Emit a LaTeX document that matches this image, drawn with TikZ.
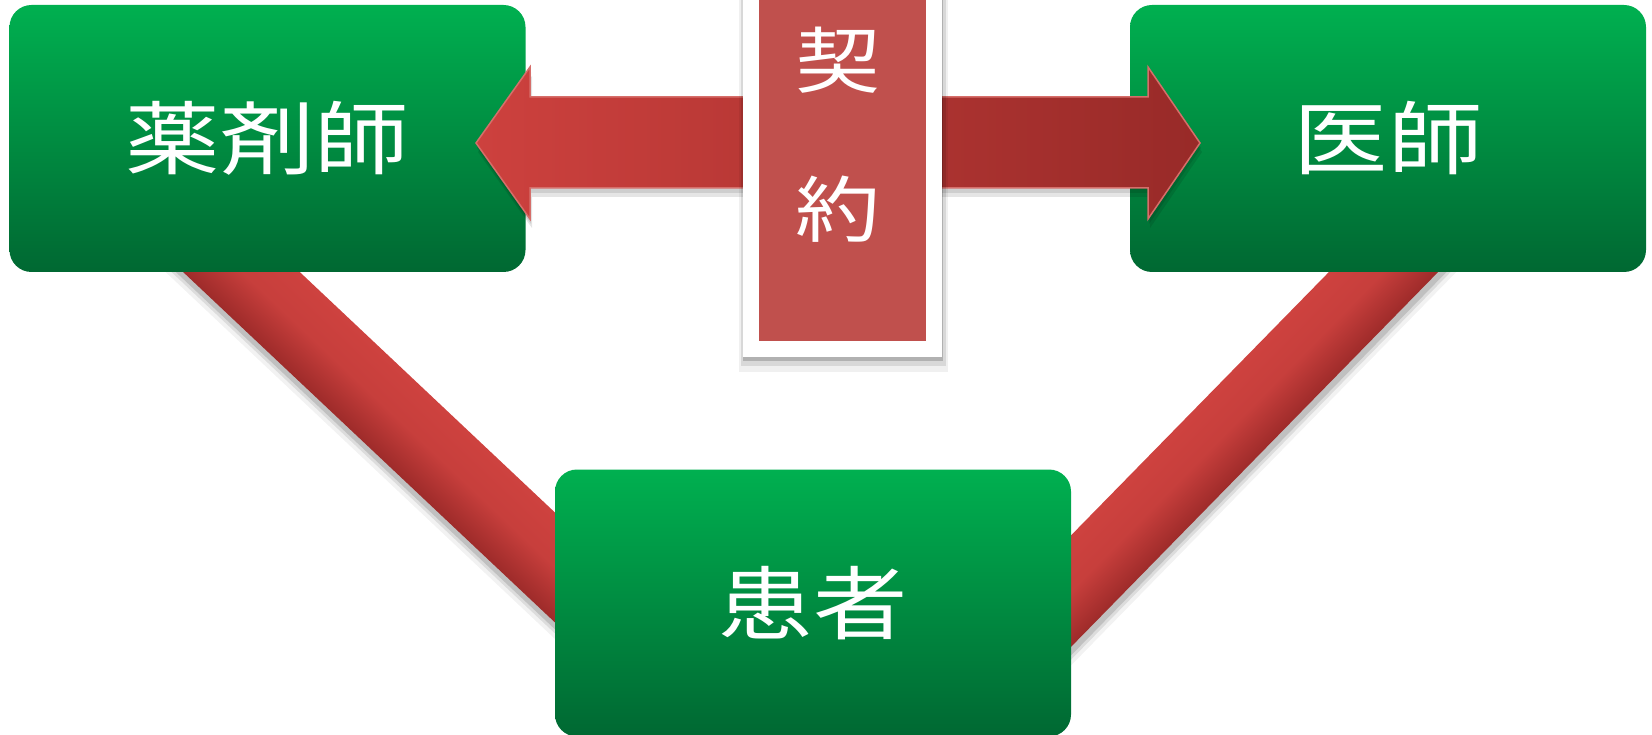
\documentclass[tikz,border=0pt]{standalone}
\usepackage{fontspec}
\newfontfamily\jp{Noto Sans CJK JP}
\usetikzlibrary{calc}
\definecolor{gtop}{RGB}{0,176,80}
\definecolor{gbot}{RGB}{0,104,50}
\definecolor{rlight}{RGB}{206,66,63}
\definecolor{rdark}{RGB}{158,43,42}
\definecolor{aleft}{RGB}{205,65,62}
\definecolor{aright}{RGB}{152,42,40}
\definecolor{aedge}{RGB}{214,110,106}
\definecolor{acc}{RGB}{192,80,77}
\newcommand{\wide}[1]{\scalebox{1.18}[1]{#1}}
\begin{document}
\begin{tikzpicture}[x=1pt,y=1pt,
  box/.style={rounded corners=22pt, top color=gtop, bottom color=gbot,
    minimum width=516pt, minimum height=267pt, inner sep=0pt, text=white,
    font=\jp\fontsize{80}{90}\selectfont},
  ktext/.style={text=white, inner sep=0pt, font=\jp\fontsize{72}{80}\selectfont},
  barshade/.style={top color=rlight, bottom color=rdark, middle color=rlight!85!rdark},
  shadowfill/.style={fill=black, opacity=#1},
]
\useasboundingbox (0,0) rectangle (1652,-735);
\clip (0,0) rectangle (1652,-735);

% diagonal bars (under the boxes)
\coordinate (l1) at (165,-200);
\coordinate (l2) at (600,-610);
\coordinate (r1) at (1030,-633);
\coordinate (r2) at (1454,-200);

\begin{scope}[transform canvas={shift={(l1)},rotate=-43.3}]
  \fill[shadowfill=0.05] (0,-52) rectangle (598,34);
  \fill[shadowfill=0.09] (0,-48) rectangle (598,36);
  \fill[shadowfill=0.13] (0,-45) rectangle (598,38);
  \shade[barshade] (0,-40) rectangle (598,40);
\end{scope}
\begin{scope}[transform canvas={shift={(r1)},rotate=45.6}]
  \fill[shadowfill=0.05] (0,-52) rectangle (606,34);
  \fill[shadowfill=0.09] (0,-48) rectangle (606,36);
  \fill[shadowfill=0.13] (0,-45) rectangle (606,38);
  \shade[barshade] (0,-39) rectangle (606,39);
\end{scope}

% boxes
\node[box] (yaku) at (267.5,-138.5) {\wide{薬剤師}};
\node[box] (ishi) at (1388,-138.5) {\wide{医師}};
\node[box] (kanja) at (813,-603) {\wide{患者}};

% double arrow
\path[shadowfill=0.10]
  ([shift={(2,-9)}]476,-143) -- ([shift={(2,-9)}]530,-67) -- ([shift={(2,-9)}]530,-97)
  -- ([shift={(2,-9)}]1148,-97) -- ([shift={(2,-9)}]1148,-67) -- ([shift={(2,-9)}]1200,-143)
  -- ([shift={(2,-9)}]1148,-219) -- ([shift={(2,-9)}]1148,-188) -- ([shift={(2,-9)}]530,-188)
  -- ([shift={(2,-9)}]530,-219) -- cycle;
\path[shadowfill=0.10]
  ([shift={(1,-5)}]476,-143) -- ([shift={(1,-5)}]530,-67) -- ([shift={(1,-5)}]530,-97)
  -- ([shift={(1,-5)}]1148,-97) -- ([shift={(1,-5)}]1148,-67) -- ([shift={(1,-5)}]1200,-143)
  -- ([shift={(1,-5)}]1148,-219) -- ([shift={(1,-5)}]1148,-188) -- ([shift={(1,-5)}]530,-188)
  -- ([shift={(1,-5)}]530,-219) -- cycle;
\shade[left color=aleft, right color=aright, draw=aedge, line width=1.5pt, line join=miter]
  (476,-143) coordinate (tipL) -- (530,-67) -- (530,-97) -- (1148,-97) -- (1148,-67)
  -- (1200,-143) coordinate (tipR) -- (1148,-219) -- (1148,-188) -- (530,-188)
  -- (530,-219) -- cycle;

% contract box
\fill[shadowfill=0.06] (739,10) rectangle (948,-372);
\fill[shadowfill=0.10] (741,10) rectangle (946,-366);
\fill[shadowfill=0.18] (743,10) rectangle (943,-361);
\node[fill=acc, draw=white, line width=16pt, minimum width=183pt, minimum height=369pt,
      inner sep=0pt] (keiyaku) at (842.5,-164.5) {};
\node[ktext] (kei) at (838,-60) {\wide{契}};
\node[ktext] (yak) at (838,-209) {\wide{約}};
\end{tikzpicture}
\end{document}
